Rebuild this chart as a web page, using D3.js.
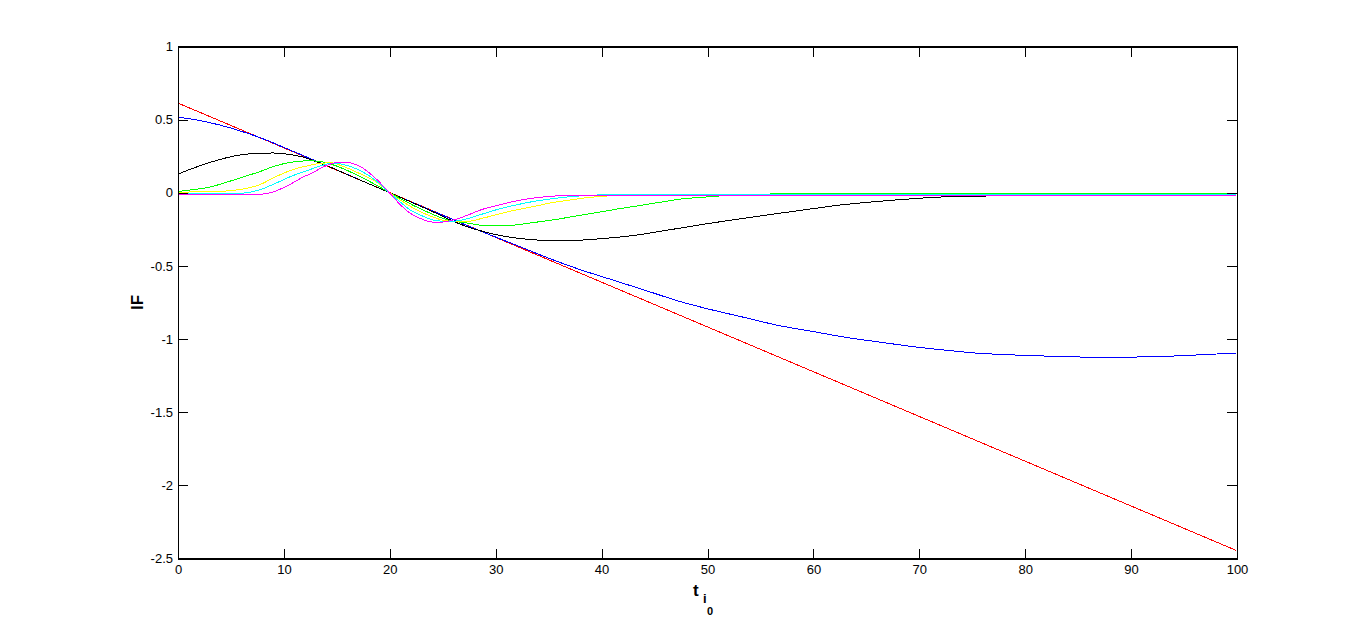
<!DOCTYPE html>
<html>
<head>
<meta charset="utf-8">
<script src="https://cdn.jsdelivr.net/npm/d3@7"></script>
<style>
  html, body { margin: 0; padding: 0; background: #fff; }
  svg { display: block; }
  .axis text { font-family: "Liberation Sans", Arial, sans-serif; font-size: 13px; fill: #000; }
  .axis path, .axis line { stroke: #000; shape-rendering: crispEdges; }
</style>
</head>
<body>
<svg id="chart" width="1366" height="628"></svg>
<script>
// ---- data ----
const xTicks = [0, 10, 20, 30, 40, 50, 60, 70, 80, 90, 100];
const yTicks = [1, 0.5, 0, -0.5, -1, -1.5, -2, -2.5];

const redT = [0, 100];
const redY = [0.613, -2.447];

const blueT = [0,2,4,6,8,10,12,14,16,18,20,22,24,26,28,30,32,35,38,41,44,47.4,50,53,56.85,60,63.5,66.5,69.75,72.5,75.4,78,80.8,83,85.5,88,90.2,92.5,94.9,97,100];
const blueY = [0.517,0.495,0.462,0.420,0.37,0.31,0.249,0.187,0.125,0.062,0,-0.062,-0.123,-0.184,-0.245,-0.303,-0.36,-0.447,-0.526,-0.595,-0.664,-0.743,-0.793,-0.844,-0.909,-0.949,-0.993,-1.023,-1.055,-1.076,-1.096,-1.106,-1.114,-1.118,-1.123,-1.124,-1.123,-1.12,-1.113,-1.106,-1.095];

const blackT = [0,1.5,3,4.5,6,7.5,9,10.5,12,13,14,16,18,20,22,24,25.7,27.3,28.8,30.4,32,33.5,35,36.4,38,39.9,41.5,43,44.5,46.1,47.7,49.3,51.2,53.1,55.5,57.8,60,62.5,65,67.2,69.5,72,74.5,77.3,80,100];
const blackY = [0.128,0.17,0.207,0.238,0.26,0.27,0.272,0.262,0.24,0.214,0.187,0.124,0.062,0,-0.063,-0.127,-0.185,-0.232,-0.264,-0.292,-0.31,-0.321,-0.327,-0.328,-0.324,-0.314,-0.304,-0.292,-0.276,-0.257,-0.238,-0.219,-0.198,-0.178,-0.153,-0.13,-0.108,-0.084,-0.066,-0.052,-0.04,-0.029,-0.024,-0.021,-0.018,-0.016];

const greenT = [0,1.5,3,4.5,6.1,7.7,9.25,10.8,12.4,13.7,15.5,17.2,18.8,20,21,23.2,25.7,27.3,28.8,30.4,32,33.6,35.1,36.7,38.3,39.9,41.4,43,44.6,46.2,47.7,49.3,51.5,54,57,62,70,100];
const greenY = [0.009,0.022,0.039,0.07,0.107,0.144,0.185,0.21,0.219,0.21,0.168,0.11,0.05,0,-0.04,-0.12,-0.19,-0.207,-0.223,-0.226,-0.219,-0.203,-0.189,-0.17,-0.15,-0.131,-0.112,-0.094,-0.075,-0.057,-0.041,-0.032,-0.02,-0.012,-0.007,-0.004,-0.002,-0.002];

const yellowT = [0,3,4.5,6.1,7.7,9.25,10.8,12.4,13.7,14.5,15.5,17.2,18.8,20,21,23.2,25.7,27.3,28.8,30.4,32,33.6,35.1,36.7,38.3,39.9,41.4,44,48,100];
const yellowY = [0.005,0.006,0.012,0.025,0.055,0.111,0.157,0.187,0.203,0.205,0.183,0.13,0.07,0,-0.05,-0.14,-0.195,-0.196,-0.173,-0.144,-0.116,-0.094,-0.07,-0.053,-0.036,-0.025,-0.018,-0.012,-0.009,-0.009];

const cyanT = [0,6.1,7.7,9.25,10.8,12.4,13.7,14.5,15.5,17.2,18.8,19.9,21,21.9,23.2,24.4,25.7,26.9,28.8,30.4,32,33.6,35.1,36.7,38.3,41.4,45,100];
const cyanY = [-0.002,-0.002,0.02,0.066,0.116,0.157,0.189,0.203,0.196,0.152,0.077,0.005,-0.064,-0.116,-0.162,-0.191,-0.196,-0.185,-0.144,-0.109,-0.082,-0.059,-0.043,-0.029,-0.02,-0.011,-0.009,-0.009];

const magentaT = [0,7,8.6,10.2,11.8,12.5,14,15,15.9,17.2,18.8,19.9,21,21.9,23.2,24.4,25.7,26.9,28.8,30.4,32,33.6,35.1,36.7,40,100];
const magentaY = [-0.014,-0.014,-0.002,0.043,0.107,0.13,0.185,0.207,0.207,0.18,0.089,0.005,-0.082,-0.139,-0.185,-0.203,-0.192,-0.165,-0.112,-0.082,-0.055,-0.036,-0.025,-0.018,-0.016,-0.016];

const seriesList = [
  { t: redT, y: redY, color: "#ff0000" },
  { t: blueT, y: blueY, color: "#0000ff" },
  { t: blackT, y: blackY, color: "#000000" },
  { t: greenT, y: greenY, color: "#00ff00" },
  { t: yellowT, y: yellowY, color: "#ffff00" },
  { t: cyanT, y: cyanY, color: "#00ffff" },
  { t: magentaT, y: magentaY, color: "#ff00ff" }
];

// ---- layout ----
const svg = d3.select("#chart");
const L = 178, R = 1237, T = 46.5, B = 558.5;

const x = d3.scaleLinear().domain([0, 100]).range([L, R]);
const y = d3.scaleLinear().domain([-2.5, 1]).range([B, T]);

svg.append("rect").attr("width", 1366).attr("height", 628).attr("fill", "#fff");

const line = d3.line().x(d => x(d[0])).y(d => y(d[1])).curve(d3.curveMonotoneX);
svg.append("clipPath").attr("id", "clip")
  .append("rect").attr("x", L).attr("y", T).attr("width", R - L - 1).attr("height", B - T);

const g = svg.append("g").attr("clip-path", "url(#clip)");
seriesList.forEach(s => {
  const pts = s.t.map((t, i) => [t, s.y[i]]);
  g.append("path")
    .attr("d", line(pts))
    .attr("fill", "none")
    .attr("stroke", s.color)
    .attr("stroke-width", 1)
    .attr("shape-rendering", "crispEdges");
});

// axes (MATLAB style: ticks inside, box on)
const fmt = d => String(d);
svg.append("g").attr("class", "axis").attr("transform", `translate(0,${B})`)
  .call(d3.axisBottom(x).tickValues(xTicks).tickFormat(fmt).tickSize(-10).tickSizeOuter(0).tickPadding(6));
svg.append("g").attr("class", "axis").attr("transform", `translate(0,${T})`)
  .call(d3.axisTop(x).tickValues(xTicks).tickFormat("").tickSize(-10).tickSizeOuter(0));
svg.append("g").attr("class", "axis").attr("transform", `translate(${L},0)`)
  .call(d3.axisLeft(y).tickValues(yTicks).tickFormat(fmt).tickSize(-10).tickSizeOuter(0).tickPadding(5));
svg.append("g").attr("class", "axis").attr("transform", `translate(${R},0)`)
  .call(d3.axisRight(y).tickValues(yTicks).tickFormat("").tickSize(-10).tickSizeOuter(0));

svg.append("rect").attr("x", L).attr("y", T).attr("width", R - L).attr("height", B - T)
  .attr("fill", "none").attr("stroke", "#000").attr("shape-rendering", "crispEdges");

// axis labels
svg.append("text")
  .attr("transform", `translate(143,${(T + B) / 2}) rotate(-90)`)
  .attr("text-anchor", "middle")
  .attr("font-family", "Liberation Sans, Arial, sans-serif")
  .attr("font-weight", "bold").attr("font-size", 17)
  .text("IF");

const xl = svg.append("text")
  .attr("x", 693).attr("y", 596)
  .attr("font-family", "Liberation Sans, Arial, sans-serif")
  .attr("font-weight", "bold").attr("font-size", 17);
xl.append("tspan").text("t");
xl.append("tspan").attr("x", 703).attr("y", 603).attr("font-size", 13).text("i");
xl.append("tspan").attr("x", 707).attr("y", 614.5).attr("font-size", 11).text("0");
</script>
</body>
</html>
